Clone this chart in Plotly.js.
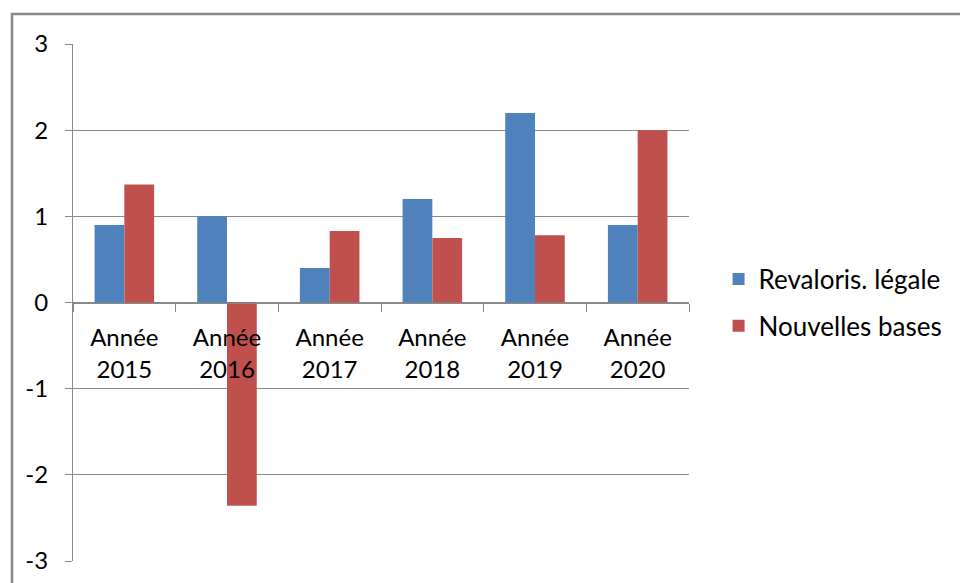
<!DOCTYPE html>
<html>
<head>
<meta charset="utf-8">
<script src="https://cdn.plot.ly/plotly-3.0.1.min.js"></script>
<style>
  html, body { margin: 0; padding: 0; background: #fff; }
  #chart { width: 960px; height: 583px; }
</style>
</head>
<body>
<div id="chart"></div>
<script>
const categories = ["Année 2015", "Année 2016", "Année 2017", "Année 2018", "Année 2019", "Année 2020"];
const tickLabels = ["Année<br>2015", "Année<br>2016", "Année<br>2017", "Année<br>2018", "Année<br>2019", "Année<br>2020"];
const seriesNames = ["Revaloris. légale", "Nouvelles bases"];
const revalorisLegale = [0.9, 1.0, 0.4, 1.2, 2.2, 0.9];
const nouvellesBases = [1.37, -2.36, 0.83, 0.75, 0.78, 2.0];
const yTicks = [-3, -2, -1, 0, 1, 2, 3];
const yTickLabels = ["-3", "-2", "-1", "0", "1", "2", "3"];

const FONT = "Lato, 'Open Sans', sans-serif";
const GRID = "#898989";

const traces = [
  {
    type: "bar", name: seriesNames[0], x: categories, y: revalorisLegale,
    marker: { color: "#4F81BD" }, legendgroup: "a"
  },
  {
    type: "bar", name: seriesNames[1], x: categories, y: nouvellesBases,
    marker: { color: "#C0504D" }, legendgroup: "b"
  }
];

const layout = {
  width: 960, height: 583,
  margin: { l: 73, r: 271, t: 44, b: 22, pad: 0 },
  paper_bgcolor: "#fff", plot_bgcolor: "#fff",
  font: { family: FONT, size: 24, color: "#000" },
  barmode: "group", bargap: 0.42, bargroupgap: 0,
  showlegend: true,
  legend: {
    x: 1.048, xanchor: "left", y: 0.5, yanchor: "middle",
    traceorder: "grouped", tracegroupgap: 10,
    font: { family: FONT, size: 26, color: "#000" },
    bgcolor: "rgba(0,0,0,0)"
  },
  xaxis: {
    type: "category",
    tickmode: "array", tickvals: categories, ticktext: tickLabels,
    anchor: "free", position: 0.5,
    showline: true, linecolor: GRID, linewidth: 1,
    ticks: "outside", tickson: "boundaries", ticklen: 8, tickcolor: GRID, tickwidth: 1,
    showgrid: false, zeroline: false,
    tickfont: { family: FONT, size: 24, color: "#000" },
    ticklabelstandoff: 14,
    fixedrange: true
  },
  yaxis: {
    range: [-3, 3], tickmode: "array", tickvals: yTicks, ticktext: yTickLabels,
    showline: true, linecolor: GRID, linewidth: 1,
    ticks: "outside", ticklen: 7, tickcolor: GRID, tickwidth: 1,
    showgrid: true, gridcolor: GRID, gridwidth: 1,
    zeroline: false,
    tickfont: { family: FONT, size: 24, color: "#000" },
    ticklabelstandoff: 12,
    fixedrange: true
  },
  shapes: [
    {
      type: "rect", xref: "paper", yref: "paper",
      x0: -0.099, x1: 2, y0: -1, y1: 1.058,
      line: { color: "#888888", width: 2.5 }, fillcolor: "rgba(0,0,0,0)", layer: "below"
    }
  ]
};

Plotly.newPlot("chart", traces, layout, { staticPlot: true, displayModeBar: false });
</script>
</body>
</html>
